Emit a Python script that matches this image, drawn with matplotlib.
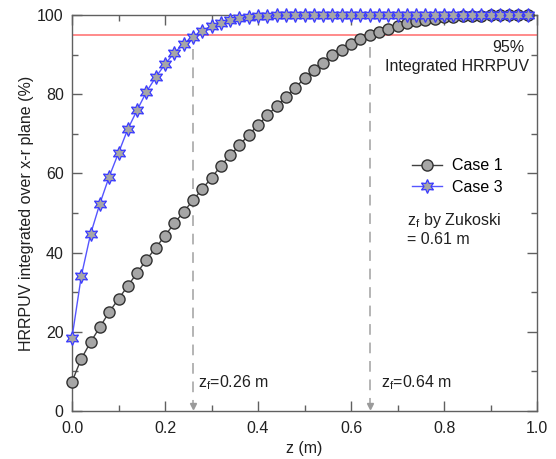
import matplotlib
matplotlib.use("Agg")
import matplotlib.pyplot as plt
import numpy as np

plt.rcParams['font.family'] = ['Liberation Sans', 'DejaVu Sans']
plt.rcParams['mathtext.fontset'] = 'custom'
plt.rcParams['mathtext.rm'] = 'Liberation Sans'
plt.rcParams['mathtext.it'] = 'Liberation Sans'

# height above burner (m)
z = [0.00, 0.02, 0.04, 0.06, 0.08, 0.10, 0.12, 0.14, 0.16, 0.18,
     0.20, 0.22, 0.24, 0.26, 0.28, 0.30, 0.32, 0.34, 0.36, 0.38,
     0.40, 0.42, 0.44, 0.46, 0.48, 0.50, 0.52, 0.54, 0.56, 0.58,
     0.60, 0.62, 0.64, 0.66, 0.68, 0.70, 0.72, 0.74, 0.76, 0.78,
     0.80, 0.82, 0.84, 0.86, 0.88, 0.90, 0.92, 0.94, 0.96, 0.98]

# integrated HRRPUV (%)
case1 = [7.4, 13.2, 17.4, 21.2, 25.0, 28.3, 31.6, 34.9, 38.2, 41.2,
         44.3, 47.4, 50.3, 53.2, 56.1, 58.9, 61.9, 64.6, 67.1, 69.8,
         72.2, 74.7, 77.0, 79.4, 81.7, 84.0, 86.1, 88.0, 89.8, 91.3,
         92.6, 93.9, 94.9, 95.8, 96.6, 97.3, 97.9, 98.4, 98.8, 99.1,
         99.4, 99.6, 99.7, 99.8, 99.85, 99.9, 99.95, 100.0, 100.0, 100.0]
case3 = [18.5, 34.1, 44.7, 52.4, 59.2, 65.2, 71.2, 76.0, 80.6, 84.3,
         87.6, 90.5, 92.7, 94.5, 95.9, 97.2, 98.1, 98.7, 99.2, 99.5,
         99.7, 99.8, 99.9, 99.95, 100.0, 100.0, 100.0, 100.0, 100.0, 100.0,
         100.0, 100.0, 100.0, 100.0, 100.0, 100.0, 100.0, 100.0, 100.0, 100.0,
         100.0, 100.0, 100.0, 100.0, 100.0, 100.0, 100.0, 100.0, 100.0, 100.0]

# flame heights at 95 % of integrated HRRPUV
zf3 = 0.26
zf1 = 0.64
zf3_val = 94.5
zf1_val = 94.9

fs = 11.5
tc = '#202020'

fig = plt.figure(figsize=(5.56, 4.59), dpi=100)
ax = fig.add_axes([0.1295, 0.1046, 0.8365, 0.8625])

ax.axhline(95, color='#ff6b6b', lw=1.1, zorder=1)

for zf, val in [(zf3, zf3_val), (zf1, zf1_val)]:
    ax.plot([zf, zf], [val - 3, 1.5], color='#b4b4b4', lw=1.4,
            dashes=(5.5, 4), zorder=1)
    ax.plot(zf, 1.2, marker='v', color='#9a9a9a', ms=5, zorder=1)

ax.plot(z, case1, '-', color='#404040', lw=1.0, marker='o', ms=8,
        mfc='#a6a6a6', mec='#303030', mew=1.0, label='Case 1', zorder=3,
        clip_on=False)
ax.plot(z, case3, '-', color='#5555ff', lw=1.0, marker=(6, 1, 0), ms=10,
        mfc='#a6a6a6', mec='#3a3aff', mew=0.9, label='Case 3', zorder=4,
        clip_on=False)

ax.set_xlim(0, 1.0)
ax.set_ylim(0, 100)
ax.set_xticks(np.arange(0, 1.01, 0.2))
ax.set_xticks(np.arange(0.1, 1.0, 0.2), minor=True)
ax.set_yticks(np.arange(0, 101, 20))
ax.set_yticks(np.arange(10, 100, 20), minor=True)
ax.set_xticklabels(['0.0', '0.2', '0.4', '0.6', '0.8', '1.0'])
ax.tick_params(which='both', direction='in', top=True, right=True,
               color='#606060', labelsize=fs, labelcolor=tc)
ax.tick_params(which='major', length=7, width=1)
ax.tick_params(which='minor', length=4, width=1)
ax.tick_params(axis='x', pad=7)
ax.tick_params(axis='y', pad=6)
for sp in ax.spines.values():
    sp.set_color('#606060')
    sp.set_linewidth(1.0)

ax.set_xlabel('z (m)', fontsize=fs, color=tc, labelpad=4)
ax.set_ylabel('HRRPUV integrated over x-r plane (%)', fontsize=fs,
              color=tc, labelpad=2)

ax.text(0.972, 91.9, '95%', ha='right', va='center', fontsize=fs, color=tc)
ax.text(0.983, 86.9, 'Integrated HRRPUV', ha='right', va='center',
        fontsize=fs, color=tc)
ax.text(0.271, 7.1, r'z$_\mathrm{f}$=0.26 m', va='center', fontsize=fs, color=tc)
ax.text(0.664, 7.1, r'z$_\mathrm{f}$=0.64 m', va='center', fontsize=fs, color=tc)
ax.text(0.72, 50.5, 'z$_\\mathrm{f}$ by Zukoski\n= 0.61 m', va='top',
        fontsize=fs, color=tc, linespacing=1.15)

ax.legend(loc='upper left', bbox_to_anchor=(0.70, 0.675), frameon=False,
          fontsize=fs, handlelength=1.9, handletextpad=0.6, labelspacing=0.4,
          borderpad=0.4)

fig.savefig('out.png', dpi=100)
